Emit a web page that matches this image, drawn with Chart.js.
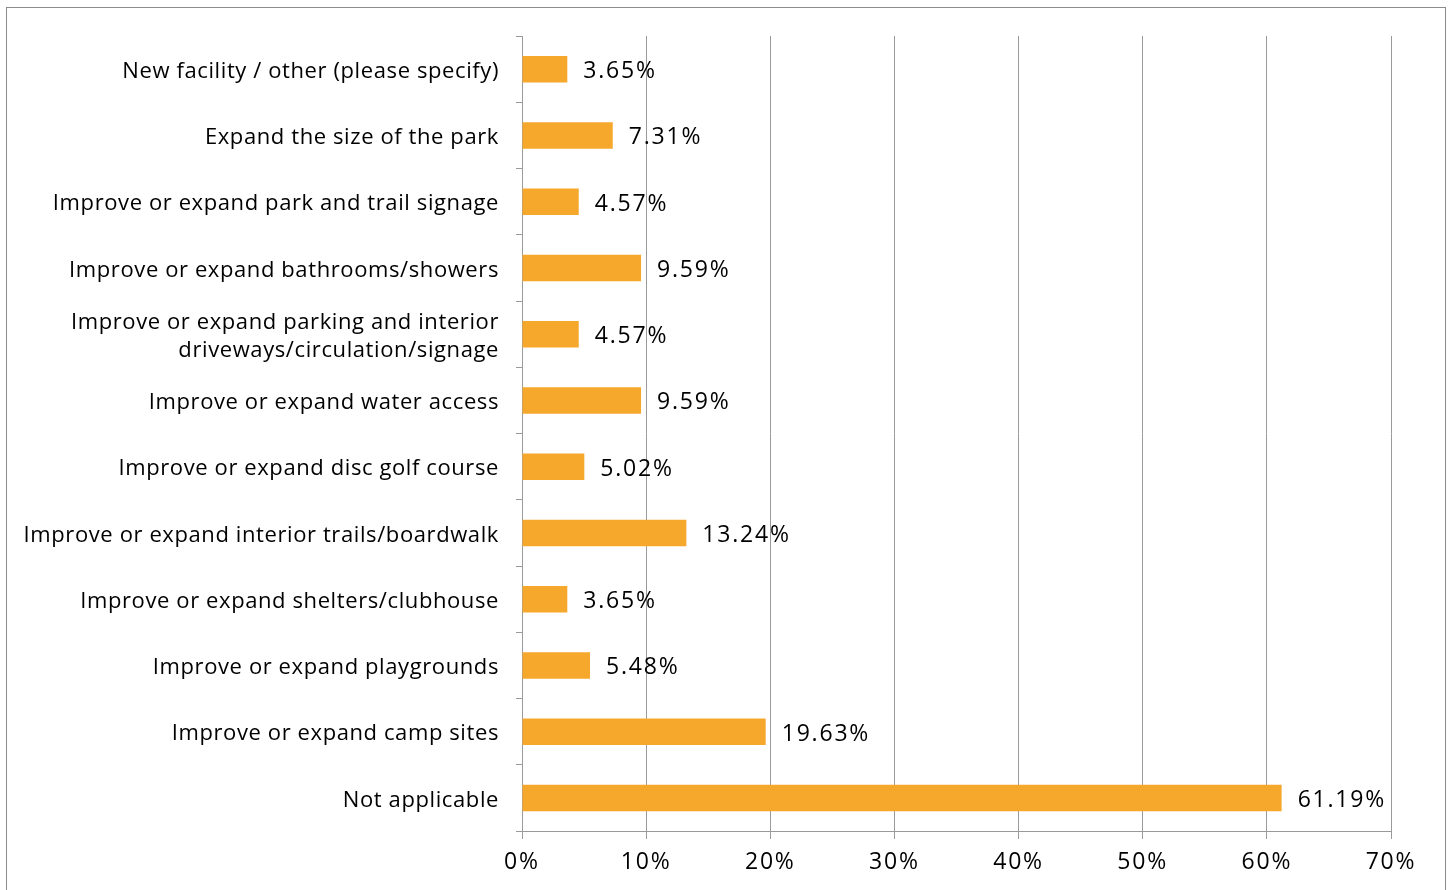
<!DOCTYPE html>
<html>
<head>
<meta charset="utf-8">
<script src="https://cdn.jsdelivr.net/npm/chart.js@4"></script>
<style>
  html, body { margin: 0; padding: 0; background: #fff; }
  #wrap { position: relative; width: 1453px; height: 890px; overflow: hidden; }
  #frame { position: absolute; left: 6px; top: 7px; width: 1440px; height: 900px; border: 1px solid #8c8c8c; box-sizing: border-box; }
  canvas { position: absolute; left: 0; top: 0; }
</style>
</head>
<body>
<div id="wrap">
  <div id="frame"></div>
  <canvas id="c" width="1453" height="890"></canvas>
</div>
<script>
const categories = [
  "New facility / other (please specify)",
  "Expand the size of the park",
  "Improve or expand park and trail signage",
  "Improve or expand bathrooms/showers",
  ["Improve or expand parking and interior", "driveways/circulation/signage"],
  "Improve or expand water access",
  "Improve or expand disc golf course",
  "Improve or expand interior trails/boardwalk",
  "Improve or expand shelters/clubhouse",
  "Improve or expand playgrounds",
  "Improve or expand camp sites",
  "Not applicable"
];
const values = [3.65, 7.31, 4.57, 9.59, 4.57, 9.59, 5.02, 13.24, 3.65, 5.48, 19.63, 61.19];
const xTicks = [0, 10, 20, 30, 40, 50, 60, 70];

const FONT = "Open Sans";
const barColor = "#F6A82D";
const gridColor = "#9a9a9a";

function patchLabels(scale, spacing, dy) {
  if (scale._patched) return;
  const orig = scale.drawLabels;
  scale.drawLabels = function (area) {
    const ctx = this.ctx;
    ctx.save();
    ctx.letterSpacing = spacing;
    ctx.translate(0, dy);
    orig.call(this, area);
    ctx.restore();
  };
  scale._patched = true;
}

const labelStyler = {
  id: "labelStyler",
  beforeDraw(chart) {
    patchLabels(chart.scales.x, "1.8px", 2);
    patchLabels(chart.scales.y, "0.6px", 2.5);
  }
};

const dataLabels = {
  id: "dataLabels",
  afterDatasetsDraw(chart) {
    const ctx = chart.ctx;
    const meta = chart.getDatasetMeta(0);
    ctx.save();
    ctx.font = "23px '" + FONT + "'";
    ctx.letterSpacing = "1.8px";
    ctx.fillStyle = "#000";
    ctx.textAlign = "left";
    ctx.textBaseline = "middle";
    meta.data.forEach((bar, i) => {
      ctx.fillText(values[i].toFixed(2) + "%", bar.x + 16, bar.y + 2.5);
    });
    ctx.restore();
  }
};

new Chart(document.getElementById("c"), {
  type: "bar",
  data: {
    labels: categories,
    datasets: [{
      data: values,
      backgroundColor: barColor,
      borderWidth: 0,
      categoryPercentage: 0.4,
      barPercentage: 1.0
    }]
  },
  options: {
    indexAxis: "y",
    responsive: false,
    animation: false,
    devicePixelRatio: 1,
    layout: { padding: { top: 36, right: 62, left: 0, bottom: 0 } },
    plugins: { legend: { display: false }, tooltip: { enabled: false } },
    scales: {
      x: {
        min: 0, max: 70,
        afterBuildTicks(scale) { scale.ticks = xTicks.map(v => ({ value: v })); },
        afterFit(scale) { scale.height = 59; },
        ticks: {
          callback: v => v + "%",
          color: "#000",
          font: { family: FONT, size: 23 },
          padding: 8,
          maxRotation: 0
        },
        grid: { color: gridColor, lineWidth: 1, tickLength: 8, drawTicks: true },
        border: { display: true, color: gridColor, width: 1 }
      },
      y: {
        afterFit(scale) { scale.width = 522; },
        ticks: {
          color: "#000",
          font: { family: FONT, size: 22, lineHeight: 1.27 },
          padding: 17,
          autoSkip: false
        },
        grid: { drawOnChartArea: false, drawTicks: true, tickLength: 6, color: gridColor, offset: true },
        border: { display: true, color: gridColor, width: 1 }
      }
    }
  },
  plugins: [labelStyler, dataLabels]
});
</script>
</body>
</html>
